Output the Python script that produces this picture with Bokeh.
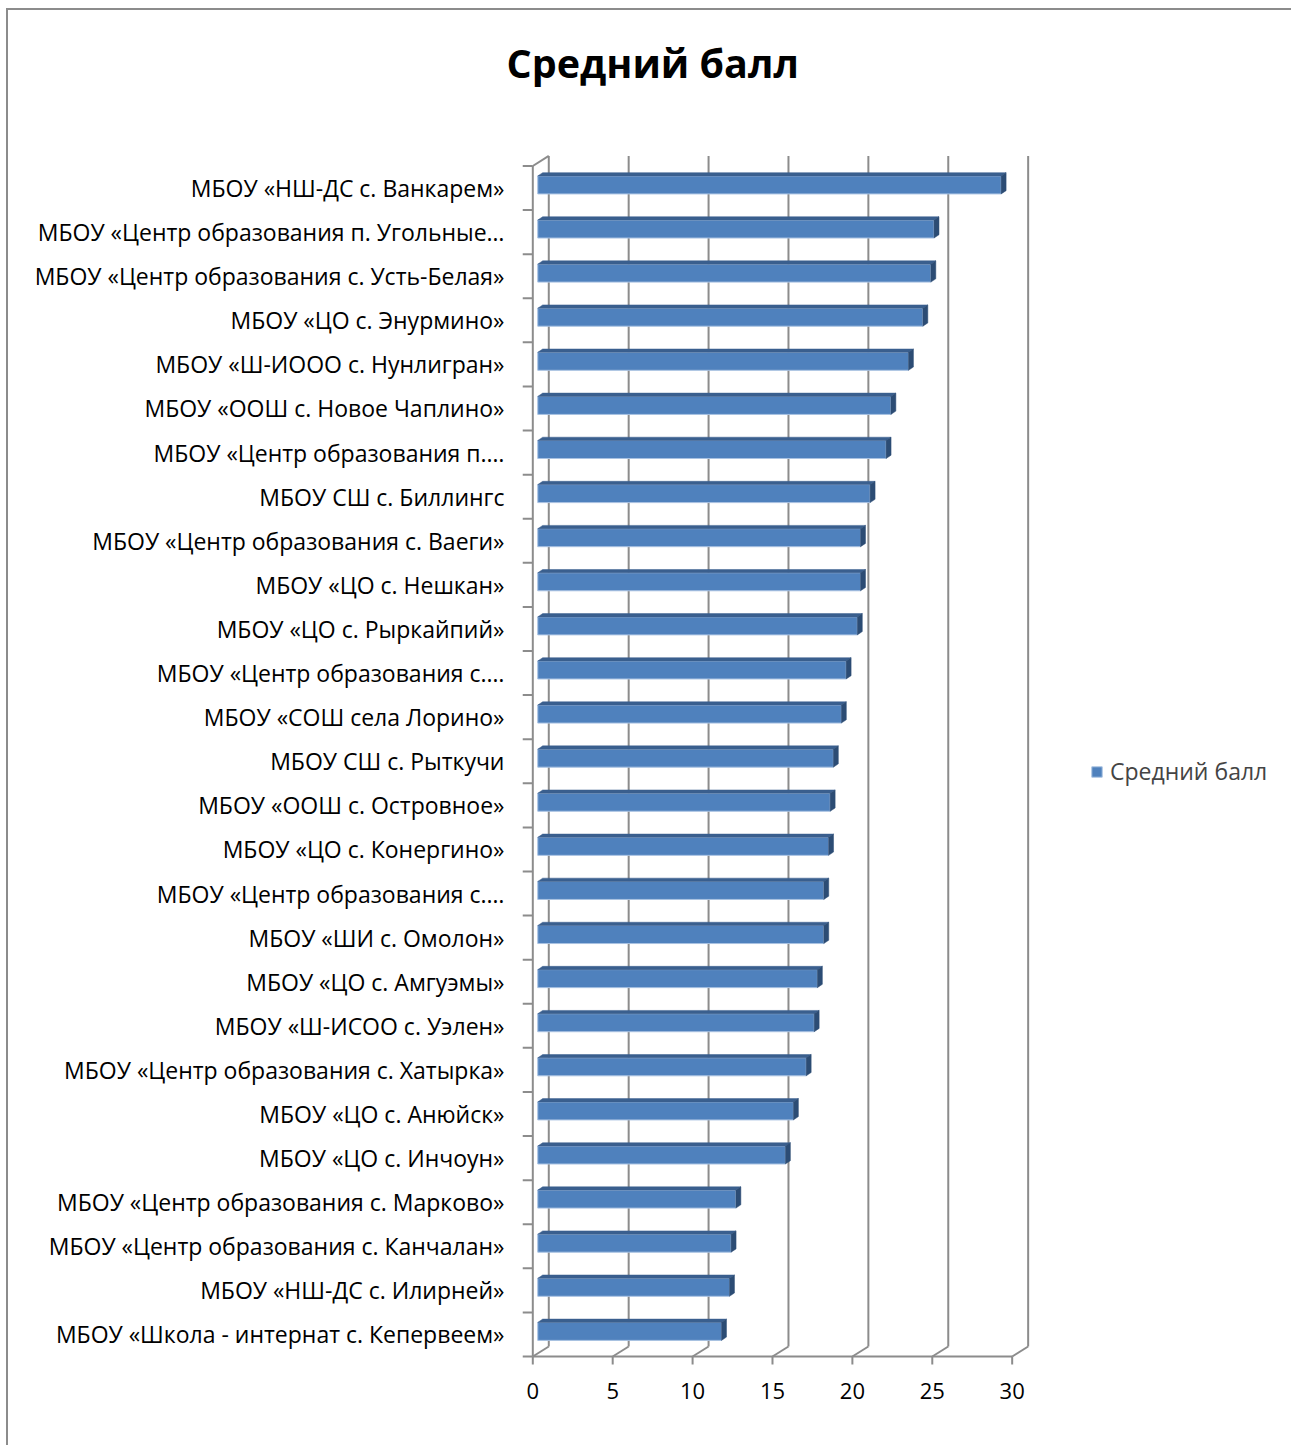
from bokeh.plotting import figure
from bokeh.models import Range1d, FixedTicker, Legend, LegendItem, ColumnDataSource
from bokeh.embed import file_html
from bokeh.resources import INLINE

title_text = "Средний балл"
series_name = "Средний балл"

schools = [
    "МБОУ «НШ-ДС с. Ванкарем»",
    "МБОУ «Центр образования п. Угольные…",
    "МБОУ «Центр образования с. Усть-Белая»",
    "МБОУ «ЦО с. Энурмино»",
    "МБОУ «Ш-ИООО с. Нунлигран»",
    "МБОУ «ООШ с. Новое Чаплино»",
    "МБОУ «Центр образования п.…",
    "МБОУ СШ с. Биллингс",
    "МБОУ «Центр образования с. Ваеги»",
    "МБОУ «ЦО с. Нешкан»",
    "МБОУ «ЦО с. Рыркайпий»",
    "МБОУ «Центр образования с.…",
    "МБОУ «СОШ села Лорино»",
    "МБОУ СШ с. Рыткучи",
    "МБОУ «ООШ с. Островное»",
    "МБОУ «ЦО с. Конергино»",
    "МБОУ «Центр образования с.…",
    "МБОУ «ШИ с. Омолон»",
    "МБОУ «ЦО с. Амгуэмы»",
    "МБОУ «Ш-ИСОО с. Уэлен»",
    "МБОУ «Центр образования с. Хатырка»",
    "МБОУ «ЦО с. Анюйск»",
    "МБОУ «ЦО с. Инчоун»",
    "МБОУ «Центр образования с. Марково»",
    "МБОУ «Центр образования с. Канчалан»",
    "МБОУ «НШ-ДС с. Илирней»",
    "МБОУ «Школа - интернат с. Кепервеем»",
]
scores = [29.0, 24.8, 24.6, 24.1, 23.2, 22.1, 21.8, 20.8, 20.2, 20.2, 20.0,
          19.3, 19.0, 18.5, 18.3, 18.2, 17.9, 17.9, 17.5, 17.3, 16.8, 16.0,
          15.5, 12.4, 12.1, 12.0, 11.5]
x_ticks = [0, 5, 10, 15, 20, 25, 30]

# pseudo-3D geometry (data units)
DX, DY = 1.0, 0.227          # full depth of the 3D box
BX, BY = 0.31, 0.07          # depth position of the bar front face
BDX, BDY = 0.31, 0.075       # depth of the bar itself
HALF = 0.204                 # half height of bar front face
n = len(schools)
pos = list(range(n))
XMAX = x_ticks[-1]

p = figure(width=1283, height=1435, output_backend="svg", toolbar_location=None,
           x_range=Range1d(-0.770, 46.98), y_range=Range1d(26.817, -1.985),
           min_border_left=512, min_border_right=8, min_border_top=90, min_border_bottom=75)
p.styles = {"outline": "2px solid #8c8c8c", "margin-left": "8px", "margin-top": "10px"}
p.outline_line_color = None
p.grid.visible = False
p.background_fill_color = "white"
p.border_fill_color = "white"

# title
p.title.text = title_text
p.title.align = "left"
p.title.offset = -14
p.title.standoff = 22
p.title.text_font = "Open Sans"
p.title.text_font_style = "bold"
p.title.text_font_size = "39.5px"
p.title.text_color = "black"

grid_col = "#8c8c8c"
top_y = -0.5
bot_y = n - 0.5
# back wall gridlines
p.segment(x0=[t + DX for t in x_ticks], y0=[top_y - DY] * len(x_ticks),
          x1=[t + DX for t in x_ticks], y1=[bot_y - DY] * len(x_ticks),
          line_color=grid_col, line_width=2)
# floor diagonals
p.segment(x0=x_ticks, y0=[bot_y] * len(x_ticks),
          x1=[t + DX for t in x_ticks], y1=[bot_y - DY] * len(x_ticks),
          line_color=grid_col, line_width=2)
# floor front edge and x ticks
p.segment(x0=[0], y0=[bot_y], x1=[XMAX], y1=[bot_y], line_color=grid_col, line_width=2)
p.segment(x0=x_ticks, y0=[bot_y] * len(x_ticks), x1=x_ticks, y1=[bot_y + 0.18] * len(x_ticks),
          line_color=grid_col, line_width=2)
# left wall front edge, top diagonal, y ticks
p.segment(x0=[0], y0=[top_y], x1=[0], y1=[bot_y], line_color=grid_col, line_width=2)
p.segment(x0=[0], y0=[top_y], x1=[DX], y1=[top_y - DY], line_color=grid_col, line_width=2)
bnd = [k - 0.5 for k in range(n + 1)]
p.segment(x0=[-0.63] * len(bnd), y0=bnd, x1=[0] * len(bnd), y1=bnd, line_color=grid_col, line_width=2)

# bars
centers = [c - BY for c in pos]
left0 = BX
rights = [BX + v for v in scores]
src = ColumnDataSource(dict(y=centers, right=rights))
front = p.hbar(y="y", left=left0, right="right", height=2 * HALF, source=src,
               fill_color="#4F81BD", line_color="#a9c2e2", line_width=1)
top_xs, top_ys, side_xs, side_ys = [], [], [], []
for c, r in zip(centers, rights):
    yt, yb = c - HALF, c + HALF
    top_xs.append([left0, r, r + BDX, left0 + BDX])
    top_ys.append([yt, yt, yt - BDY, yt - BDY])
    side_xs.append([r, r + BDX, r + BDX, r])
    side_ys.append([yt, yt - BDY, yb - BDY, yb])
p.patches(top_xs, top_ys, fill_color="#3A5F8E", line_color="#3A5F8E", line_width=0.5)
p.patches(side_xs, side_ys, fill_color="#2C4C74", line_color="#2C4C74", line_width=0.5)

# axes
xa = p.xaxis[0]
xa.ticker = FixedTicker(ticks=x_ticks)
xa.axis_line_color = None
xa.major_tick_line_color = None
xa.minor_tick_line_color = None
xa.major_tick_out = 0
xa.major_tick_in = 0
xa.major_label_standoff = 12
xa.major_label_text_font = "Open Sans"
xa.major_label_text_font_size = "22px"
xa.major_label_text_color = "black"

ya = p.yaxis[0]
ya.ticker = FixedTicker(ticks=pos)
ya.major_label_overrides = {i: s for i, s in zip(pos, schools)}
ya.axis_line_color = None
ya.major_tick_line_color = None
ya.minor_tick_line_color = None
ya.major_tick_out = 0
ya.major_tick_in = 0
ya.major_label_standoff = 16
ya.major_label_text_font = "Open Sans"
ya.major_label_text_font_size = "23px"
ya.major_label_text_color = "black"

legend = Legend(items=[LegendItem(label=series_name, renderers=[front])], location=(570, 583),
                padding=0, margin=0, spacing=0, border_line_color=None, background_fill_alpha=0,
                glyph_width=13, glyph_height=13, label_standoff=7, label_text_font="Open Sans",
                label_text_font_size="23px", label_height=23)
p.add_layout(legend)

open("out.html", "w").write(file_html(p, INLINE))
